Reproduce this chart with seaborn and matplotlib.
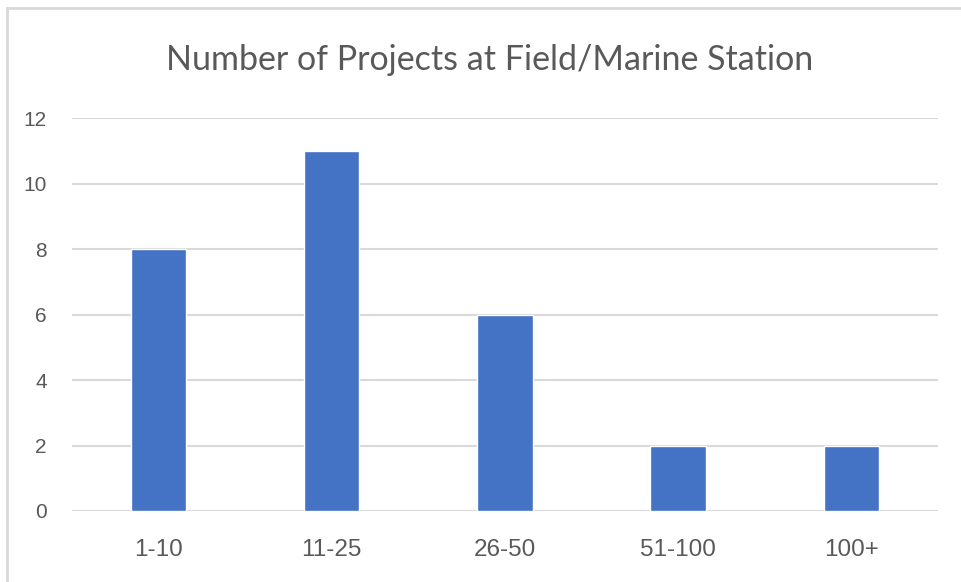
import matplotlib
matplotlib.use("Agg")
import matplotlib.pyplot as plt
import seaborn as sns
import pandas as pd

# chart data
categories = ['1-10', '11-25', '26-50', '51-100', '100+']
projects = [8, 11, 6, 2, 2]
y_ticks = [0, 2, 4, 6, 8, 10, 12]

df = pd.DataFrame({'range': categories, 'count': projects})

sns.set_theme(style='white')
plt.rcParams['font.family'] = ['Liberation Sans', 'DejaVu Sans']

fig = plt.figure(figsize=(9.61, 5.82), dpi=100)
ax = fig.add_axes([0.0749, 0.122, 0.901, 0.675])

sns.barplot(data=df, x='range', y='count', color='#4472C4', width=0.32,
            saturation=1, ax=ax, zorder=3)

ax.set_ylim(0, 12)
ax.set_yticks(y_ticks)
ax.set_xlim(-0.5, 4.5)
ax.yaxis.grid(True, color='#D9D9D9', linewidth=1.5, zorder=0)
ax.set_axisbelow(True)
for s in ax.spines.values():
    s.set_visible(False)
ax.set_xlabel('')
ax.set_ylabel('')
ax.tick_params(axis='x', colors='#595959', labelsize=17.5, length=0, pad=20)
ax.tick_params(axis='y', colors='#595959', labelsize=15, length=0, pad=18)

fig.text(0.509, 0.897, 'Number of Projects at Field/Marine Station',
         ha='center', va='center', fontsize=24.5, color='#595959', family=['Lato', 'DejaVu Sans'])

# outer chart border
fig.patches.append(plt.Rectangle((7 / 961, -0.01), 1.02, 1 - 8 / 582 + 0.01,
                                 transform=fig.transFigure, fill=False,
                                 edgecolor='#D9D9D9', linewidth=2))

fig.savefig('out.png', dpi=100, facecolor='white')
